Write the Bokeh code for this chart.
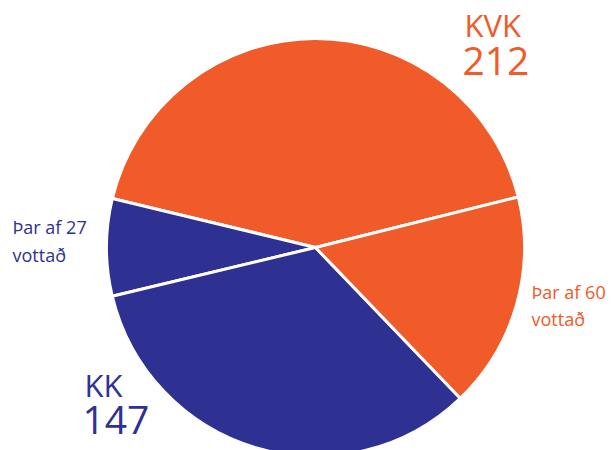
import math
from bokeh.plotting import figure
from bokeh.models import Range1d, ColumnDataSource
from bokeh.core.properties import value
from bokeh.embed import file_html
from bokeh.resources import INLINE

# Data
slice_names = ["KVK (annað)", "KK vottað", "KK (annað)", "KVK vottað"]
slice_values = [152, 27, 120, 60]
slice_colors = ["#F15A29", "#2E3192", "#2E3192", "#F15A29"]

label_texts = ["KVK", "212", "Þar af 60", "vottað", "Þar af 27", "vottað", "KK", "147"]

ORANGE = "#F15A29"
BLUE = "#2E3192"

W, H = 611, 450
p = figure(width=W, height=H, output_backend="svg", toolbar_location=None,
           x_range=Range1d(0, W), y_range=Range1d(0, H), min_border=0)
p.axis.visible = False
p.grid.visible = False
p.outline_line_color = None
p.background_fill_color = "white"
p.border_fill_color = "white"

total = sum(slice_values)
start0 = math.radians(14.0)
starts, ends = [], []
acc = start0
for v in slice_values:
    starts.append(acc)
    acc += v / total * 2 * math.pi
    ends.append(acc)

cx, cy, r = 315, H - 247, 209
src = ColumnDataSource(dict(start=starts, end=ends, color=slice_colors, name=slice_names))
p.wedge(x=cx, y=cy, radius=r, start_angle="start", end_angle="end",
        fill_color="color", line_color="white", line_width=3, source=src)

# label layout (screen coords -> data coords)
lx = [464, 462, 531, 531, 12, 12, 84, 82]
ly_screen = [24, 60, 291, 318, 226, 254, 384, 419]
lsize = ["31px", "39px", "18px", "18px", "18px", "18px", "31px", "39px"]
lcolor = [ORANGE, ORANGE, ORANGE, ORANGE, BLUE, BLUE, BLUE, BLUE]
for t, x, ys, s, c in zip(label_texts, lx, ly_screen, lsize, lcolor):
    p.text(x=[x], y=[H - ys], text=[t], text_font=value("Open Sans"),
           text_font_size=s, text_color=c, text_baseline="alphabetic", text_align="left")

open("out.html", "w").write(file_html(p, INLINE))
